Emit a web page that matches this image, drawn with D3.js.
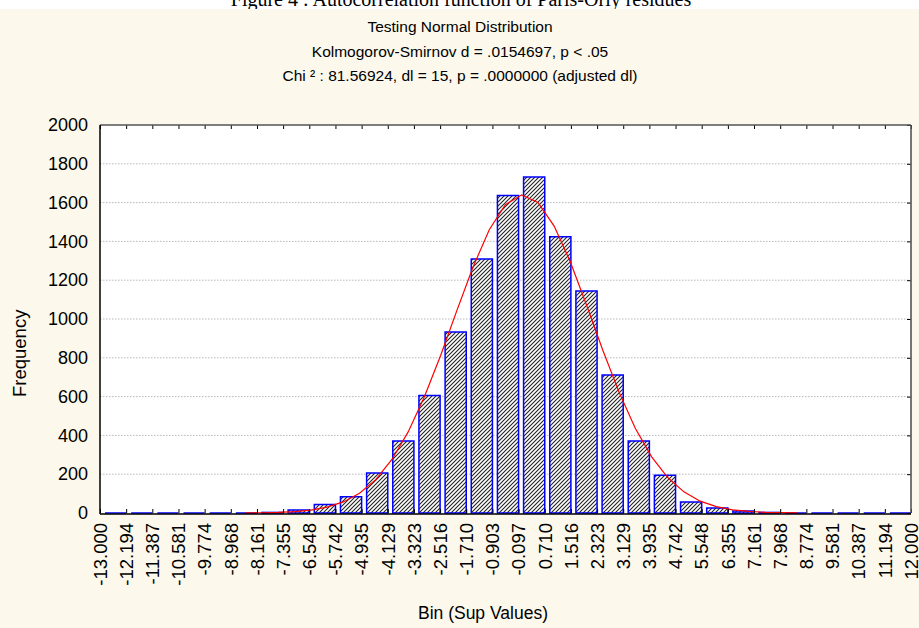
<!DOCTYPE html>
<html>
<head>
<meta charset="utf-8">
<script src="https://cdn.jsdelivr.net/npm/d3@7"></script>
<style>
  body { margin: 0; background: #fff; }
  svg { display: block; font-family: Arial, "Liberation Sans", sans-serif; }
</style>
</head>
<body>
<div id="chart"></div>
<script>
// bin boundaries (upper bounds shown under the axis)
const binLabels = ["-13.000", "-12.194", "-11.387", "-10.581", "-9.774", "-8.968", "-8.161", "-7.355",
    "-6.548", "-5.742", "-4.935", "-4.129", "-3.323", "-2.516", "-1.710", "-0.903", "-0.097", "0.710",
    "1.516", "2.323", "3.129", "3.935", "4.742", "5.548", "6.355", "7.161", "7.968", "8.774", "9.581",
    "10.387", "11.194", "12.000"];

// observed frequency of each bin (31 bins)
const binCounts = [0, 0, 0, 0, 0, 0, 3, 15, 44, 84, 206, 371, 606, 933, 1309, 1637, 1732, 1424, 1144,
    711, 371, 194, 57, 26, 10, 3, 0, 0, 0, 0, 0];

// expected normal curve
const curveX = [-8.5, -8, -7.5, -7, -6.5, -6, -5.5, -5, -4.5, -4, -3.5, -3, -2.5, -2, -1.5, -1, -0.5, 0,
    0.5, 1, 1.5, 2, 2.5, 3, 3.5, 4, 4.5, 5, 5.5, 6, 6.5, 7, 7.5, 8, 8.5];
const curveY = [0.5, 1.4, 3, 7, 15, 30, 57, 102, 172, 276, 418, 599, 812, 1043, 1268, 1460, 1590, 1640,
    1601, 1479, 1294, 1071, 839, 623, 437, 291, 183, 109, 61, 33, 16, 8, 3.6, 1.5, 0.6];

const yTicks = [0, 200, 400, 600, 800, 1000, 1200, 1400, 1600, 1800, 2000];

const titleLines = ["Testing Normal Distribution",
    "Kolmogorov-Smirnov d = .0154697, p < .05",
    "Chi \u00b2 : 81.56924, dl = 15, p = .0000000 (adjusted dl)"];

const width = 919, height = 628;
const plot = { left: 100, right: 911, top: 125, bottom: 513 };

const svg = d3.select("#chart").append("svg")
    .attr("width", width)
    .attr("height", height);

// figure caption, mostly cut off at the top
svg.append("text")
    .attr("x", 461)
    .attr("y", 6)
    .attr("text-anchor", "middle")
    .style("font-family", "'Times New Roman', 'Liberation Serif', serif")
    .style("font-size", "20px")
    .text("Figure 4 : Autocorrelation function of Paris-Orly residues");

svg.append("rect")
    .attr("x", 0).attr("y", 9)
    .attr("width", width).attr("height", height - 9)
    .attr("fill", "#fcf8ec");

const edges = binLabels.map(Number);
const x = d3.scaleLinear().domain([edges[0], edges[edges.length - 1]]).range([plot.left, plot.right]);
const y = d3.scaleLinear().domain([0, 2000]).range([plot.bottom, plot.top]);

// hatch pattern for bars
const defs = svg.append("defs");
const hatch = defs.append("pattern")
    .attr("id", "hatch")
    .attr("patternUnits", "userSpaceOnUse")
    .attr("width", 4)
    .attr("height", 4);
hatch.append("rect").attr("width", 4).attr("height", 4).attr("fill", "#fff");
hatch.append("path")
    .attr("d", "M-1,1 l2,-2 M0,4 l4,-4 M3,5 l2,-2")
    .attr("stroke", "#222")
    .attr("stroke-width", 1.1);

// plot area
svg.append("rect")
    .attr("x", plot.left).attr("y", plot.top)
    .attr("width", plot.right - plot.left).attr("height", plot.bottom - plot.top)
    .attr("fill", "#fff");

// gridlines
svg.append("g")
    .selectAll("line")
    .data(yTicks.filter(d => d > 0 && d < 2000))
    .enter()
    .append("line")
    .attr("x1", plot.left).attr("x2", plot.right)
    .attr("y1", d => y(d)).attr("y2", d => y(d))
    .attr("stroke", "#b8b8b8")
    .attr("stroke-width", 1)
    .attr("stroke-dasharray", "1.5,1.5");

// bars
svg.append("g")
    .selectAll("path")
    .data(binCounts)
    .enter()
    .append("path")
    .attr("d", (d, i) => {
        const x0 = x(edges[i]) + 5, x1 = x(edges[i + 1]);
        return `M${x0},${y(0)}V${y(d)}H${x1}V${y(0)}Z`;
    })
    .attr("fill", "url(#hatch)")
    .attr("stroke", "#0000ff")
    .attr("stroke-width", 1.5);

// fitted normal curve
const line = d3.line()
    .x((d, i) => x(curveX[i]))
    .y(d => y(d));
svg.append("path")
    .datum(curveY)
    .attr("d", line)
    .attr("fill", "none")
    .attr("stroke", "#ff0000")
    .attr("stroke-width", 1.2);

// inner ticks on every side
svg.append("g").attr("transform", `translate(0,${plot.top})`)
    .call(d3.axisTop(x).tickValues(edges).tickSize(-4).tickFormat(""))
    .call(g => g.select(".domain").remove());
svg.append("g").attr("transform", `translate(0,${plot.bottom})`)
    .call(d3.axisBottom(x).tickValues(edges).tickSize(-4).tickFormat(""))
    .call(g => g.select(".domain").remove());
svg.append("g").attr("transform", `translate(${plot.right},0)`)
    .call(d3.axisRight(y).tickValues(yTicks).tickSize(-4).tickFormat(""))
    .call(g => g.select(".domain").remove());

// frame
svg.append("line")
    .attr("x1", plot.left).attr("x2", plot.right)
    .attr("y1", plot.top).attr("y2", plot.top)
    .attr("stroke", "#555").attr("stroke-width", 1.6);
svg.append("line")
    .attr("x1", plot.right).attr("x2", plot.right)
    .attr("y1", plot.top).attr("y2", plot.bottom)
    .attr("stroke", "#555").attr("stroke-width", 1.6);
svg.append("line")
    .attr("x1", plot.left).attr("x2", plot.left)
    .attr("y1", plot.top).attr("y2", plot.bottom + 1)
    .attr("stroke", "#000").attr("stroke-width", 1.5);
svg.append("line")
    .attr("x1", plot.left).attr("x2", plot.right)
    .attr("y1", plot.bottom + 1).attr("y2", plot.bottom + 1)
    .attr("stroke", "#000").attr("stroke-width", 1.5);

// y axis labels
svg.append("g")
    .attr("transform", `translate(${plot.left},0)`)
    .call(d3.axisLeft(y).tickValues(yTicks).tickSize(0).tickPadding(12).tickFormat(d3.format("d")))
    .call(g => g.select(".domain").remove())
    .selectAll("text")
    .style("font-size", "18px")
    .style("font-family", "Arial, 'Liberation Sans', sans-serif")
    .attr("fill", "#000");

// x axis labels, rotated
svg.append("g")
    .attr("transform", `translate(0,${plot.bottom})`)
    .call(d3.axisBottom(x).tickValues(edges).tickSize(0).tickFormat((d, i) => binLabels[i]))
    .call(g => g.select(".domain").remove())
    .selectAll("text")
    .attr("y", 0)
    .attr("x", -10)
    .attr("dy", "0.34em")
    .attr("transform", "rotate(-90)")
    .style("text-anchor", "end")
    .style("font-size", "18.5px")
    .style("font-family", "Arial, 'Liberation Sans', sans-serif")
    .attr("fill", "#000");

// titles
svg.append("g")
    .selectAll("text")
    .data(titleLines)
    .enter()
    .append("text")
    .attr("x", 460)
    .attr("y", (d, i) => 32 + i * 24.5)
    .attr("text-anchor", "middle")
    .style("font-size", "15.5px")
    .text(d => d);

svg.append("text")
    .attr("transform", "translate(26,397) rotate(-90)")
    .attr("text-anchor", "start")
    .style("font-size", "18.5px")
    .text("Frequency");

svg.append("text")
    .attr("x", 483)
    .attr("y", 619)
    .attr("text-anchor", "middle")
    .style("font-size", "17.5px")
    .text("Bin (Sup Values)");
</script>
</body>
</html>
